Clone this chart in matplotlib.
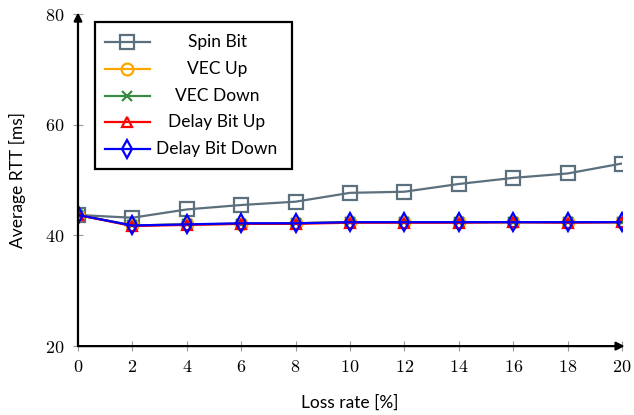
import matplotlib
matplotlib.use("Agg")
import matplotlib.pyplot as plt
from matplotlib.lines import Line2D
from matplotlib.patches import Rectangle

plt.rcParams["mathtext.fontset"] = "cm"
plt.rcParams["font.family"] = ["Lato", "DejaVu Sans"]

loss_rate = [0, 2, 4, 6, 8, 10, 12, 14, 16, 18, 20]
spin_bit = [43.7, 43.2, 44.7, 45.5, 46.1, 47.7, 47.9, 49.3, 50.4, 51.2, 53.0]
vec_up = [43.7, 41.8, 42.0, 42.1, 42.2, 42.4, 42.4, 42.4, 42.4, 42.4, 42.4]
vec_down = [43.7, 41.8, 42.0, 42.1, 42.2, 42.4, 42.4, 42.4, 42.4, 42.4, 42.4]
delay_up = [43.7, 41.7, 41.9, 42.1, 42.1, 42.3, 42.3, 42.3, 42.4, 42.3, 42.4]
delay_down = [43.7, 41.8, 42.0, 42.2, 42.2, 42.4, 42.4, 42.4, 42.4, 42.4, 42.4]
x_ticks = [0, 2, 4, 6, 8, 10, 12, 14, 16, 18, 20]
y_ticks = [20, 40, 60, 80]

series = [
    ("Spin Bit", spin_bit, dict(color="#5b6f7c", marker="s", ms=9.5, mfc="none")),
    ("VEC Up", vec_up, dict(color="#ffa500", marker="o", ms=8.5, mfc="none")),
    ("VEC Down", vec_down, dict(color="#3a8a48", marker="x", ms=6.5)),
    ("Delay Bit Up", delay_up, dict(color="#ff0000", marker="^", ms=7.5, mfc="none")),
    ("Delay Bit Down", delay_down, dict(color="#0000ff", marker="d", ms=9, mfc="none")),
]

fig = plt.figure(figsize=(6.34, 4.15), dpi=100)
ax = fig.add_axes([0.123, 0.166, 0.858, 0.800])

for name, vals, style in series:
    ax.plot(loss_rate, vals, lw=1.6, mew=1.6, label=name, **style)

ax.set_xlim(0, 20)
ax.set_ylim(20, 80)
ax.set_xticks(x_ticks)
ax.set_xticklabels([f"${t}$" for t in x_ticks])
ax.set_yticks(y_ticks)
ax.set_yticklabels([f"${t}$" for t in y_ticks])
ax.tick_params(direction="inout", length=7, width=0.8, color="#999999",
               labelsize=13, pad=6)

for s in ax.spines.values():
    s.set_visible(False)
arrow = dict(arrowstyle="-|>", color="black", lw=1.6,
             mutation_scale=12, shrinkA=0, shrinkB=0)
ax.annotate("", xy=(1.005, 0), xytext=(0, 0), xycoords="axes fraction",
            arrowprops=arrow, annotation_clip=False)
ax.annotate("", xy=(0, 1.005), xytext=(0, 0), xycoords="axes fraction",
            arrowprops=arrow, annotation_clip=False)

ax.set_xlabel("Loss rate [%]", fontsize=12.5, labelpad=14)
ax.set_ylabel("Average RTT [ms]", fontsize=12.5, labelpad=14)

# legend drawn by hand so the labels can be centred like pgfplots does
tr = fig.dpi_scale_trans
H = 4.15
fig.add_artist(Rectangle((0.95, H - 1.69), 1.97, 1.47, transform=tr,
                         fill=True, facecolor="white", edgecolor="black",
                         lw=1.6, zorder=5))
for i, (name, vals, style) in enumerate(series):
    y = H - (0.42 + i * 0.268)
    fig.add_artist(Line2D([1.05, 1.275, 1.50], [y, y, y], transform=tr,
                          lw=1.6, mew=1.6, markevery=[1], zorder=6, **style))
    fig.text(2.17, y, name, transform=tr, ha="center", va="center",
             fontsize=12.5, zorder=6)

fig.savefig("out.png", dpi=100)
